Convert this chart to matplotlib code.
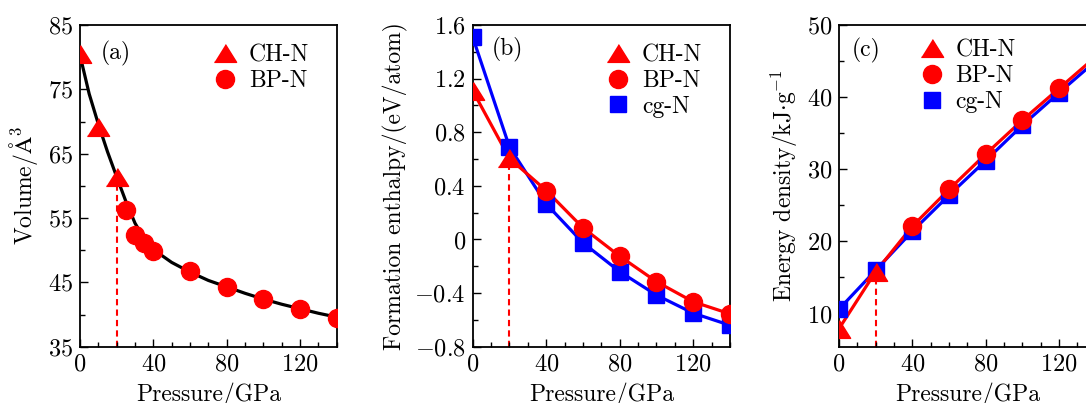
import matplotlib
matplotlib.use("Agg")
import matplotlib.pyplot as plt
from matplotlib.ticker import MultipleLocator, FixedLocator, FuncFormatter

plt.rcParams['font.family'] = 'serif'
plt.rcParams['font.serif'] = ['cmr10', 'DejaVu Serif']
plt.rcParams['mathtext.fontset'] = 'cm'
plt.rcParams['axes.formatter.use_mathtext'] = True
plt.rcParams['axes.unicode_minus'] = False

# ---------------- data ----------------
# (a) volume
a_ch_p = [0, 10, 20]
a_ch_v = [80.5, 69.2, 61.3]
a_bp_p = [25, 30, 35, 40, 60, 80, 100, 120, 140]
a_bp_v = [56.2, 52.4, 51.1, 49.8, 46.7, 44.3, 42.4, 40.8, 39.5]
a_fit_p = [0, 5, 10, 15, 20, 25, 30, 35, 40, 50, 60, 70, 80, 90, 100, 110, 120, 130, 140]
a_fit_v = [80.3, 74.3, 69.6, 65.3, 61.4, 57.6, 54.2, 51.8, 50.1, 48.1, 46.6, 45.3, 44.3, 43.3, 42.4, 41.6, 40.9, 40.2, 39.6]
a_yticks = [35, 45, 55, 65, 75, 85]

# (b) formation enthalpy
b_ch_p = [0, 20]
b_ch_h = [1.11, 0.605]
b_bp_p = [40, 60, 80, 100, 120, 140]
b_bp_h = [0.365, 0.087, -0.125, -0.315, -0.465, -0.555]
b_cg_p = [0, 20, 40, 60, 80, 100, 120, 140]
b_cg_h = [1.51, 0.69, 0.265, -0.025, -0.24, -0.415, -0.55, -0.64]

# (c) energy density
c_ch_p = [0, 20]
c_ch_e = [7.9, 15.8]
c_bp_p = [40, 60, 80, 100, 120, 140]
c_bp_e = [22.1, 27.2, 32.1, 36.8, 41.2, 45.6]
c_cg_p = [0, 20, 40, 60, 80, 100, 120, 140]
c_cg_e = [10.6, 16.0, 21.4, 26.4, 31.2, 36.1, 40.6, 45.0]

transition_p = 20

RED = '#ff0000'
BLUE = '#0000ff'
TRI = [(-1, -0.8), (1, -0.8), (0, 0.8)]

W, H = 1086, 403
fig = plt.figure(figsize=(W / 100, H / 100), dpi=100)

def px_axes(left, right, top, bottom):
    return fig.add_axes([left / W, (H - bottom) / H, (right - left) / W, (bottom - top) / H])

ax_a = px_axes(80, 336.7, 25, 346.7)
ax_b = px_axes(472.7, 730, 25, 346.7)
ax_c = px_axes(839, 1095.7, 25, 346.7)

def fmt(v, pos):
    if abs(v) < 1e-9:
        return r'$0$'
    return r'$' + ('%g' % v) + r'$'

TICK_FS = 17.5
LAB_FS = 17
LEG_FS = 17

def style(ax, ymaj=None, ymin=None, yfix=None, yminfix=None):
    ax.set_xlim(0, 140)
    ax.xaxis.set_major_locator(MultipleLocator(40))
    ax.xaxis.set_minor_locator(MultipleLocator(10))
    if yfix is not None:
        ax.yaxis.set_major_locator(FixedLocator(yfix))
        ax.yaxis.set_minor_locator(FixedLocator(yminfix))
    else:
        ax.yaxis.set_major_locator(MultipleLocator(ymaj))
        ax.yaxis.set_minor_locator(MultipleLocator(ymin))
    ax.tick_params(which='both', direction='in', top=False, right=False,
                   labelsize=TICK_FS, width=1.0, pad=5)
    ax.tick_params(which='major', length=6)
    ax.tick_params(which='minor', length=3.5)
    ax.xaxis.set_major_formatter(FuncFormatter(fmt))
    ax.yaxis.set_major_formatter(FuncFormatter(fmt))
    for s in ax.spines.values():
        s.set_linewidth(1.3)
    ax.set_xlabel('Pressure/GPa', fontsize=LAB_FS, labelpad=4.5)

ms_c, ms_t, ms_s = 13, 16, 11.5
lw = 2.3
leg_kw = dict(loc='upper left', frameon=False, fontsize=LEG_FS, handlelength=1.0,
              handletextpad=0.5, labelspacing=0.15, borderpad=0, borderaxespad=0)

# ---- (a)
ax = ax_a
ax.plot(a_fit_p, a_fit_v, '-', color='black', lw=lw, zorder=2)
ax.plot(a_ch_p, a_ch_v, linestyle='none', marker=TRI, ms=ms_t, color=RED, label='CH-N', zorder=3)
ax.plot(a_bp_p, a_bp_v, linestyle='none', marker='o', ms=ms_c, color=RED, label='BP-N', zorder=3)
ax.plot([transition_p, transition_p], [35, a_ch_v[2]], '--', color=RED, lw=1.5, dashes=(3, 2), zorder=1)
ax.set_ylim(35, 85)
style(ax, yfix=a_yticks, yminfix=[40, 50, 60, 70, 80])
ax.set_ylabel(r'Volume/$\mathrm{\AA}^3$', fontsize=LAB_FS, labelpad=6)
ax.text(0.08, 0.91, '(a)', transform=ax.transAxes, fontsize=LAB_FS, va='center', ha='left')
ax.legend(bbox_to_anchor=(0.52, 0.94), **leg_kw)

# ---- (b)
ax = ax_b
ax.plot(b_cg_p, b_cg_h, '-', color=BLUE, lw=lw, zorder=2)
ax.plot(b_ch_p + b_bp_p, b_ch_h + b_bp_h, '-', color=RED, lw=lw, zorder=2)
ax.plot(b_cg_p, b_cg_h, linestyle='none', marker='s', ms=ms_s, color=BLUE, zorder=3)
ax.plot(b_ch_p, b_ch_h, linestyle='none', marker=TRI, ms=ms_t, color=RED, label='CH-N', zorder=4)
ax.plot(b_bp_p, b_bp_h, linestyle='none', marker='o', ms=ms_c, color=RED, label='BP-N', zorder=4)
ax.plot([], [], linestyle='none', marker='s', ms=ms_s, color=BLUE, label='cg-N')
ax.plot([transition_p, transition_p], [-0.8, b_ch_h[1]], '--', color=RED, lw=1.5, dashes=(3, 2), zorder=1)
ax.set_ylim(-0.8, 1.6)
style(ax, 0.4, 0.2)
ax.set_ylabel('Formation enthalpy/(eV/atom)', fontsize=LAB_FS, labelpad=5)
ax.text(0.075, 0.925, '(b)', transform=ax.transAxes, fontsize=LAB_FS, va='center', ha='left')
ax.legend(bbox_to_anchor=(0.52, 0.94), **leg_kw)

# ---- (c)
ax = ax_c
ax.plot(c_cg_p, c_cg_e, '-', color=BLUE, lw=lw, zorder=2)
ax.plot(c_ch_p + c_bp_p, c_ch_e + c_bp_e, '-', color=RED, lw=lw, zorder=2)
ax.plot(c_cg_p, c_cg_e, linestyle='none', marker='s', ms=ms_s, color=BLUE, zorder=3)
ax.plot(c_ch_p, c_ch_e, linestyle='none', marker=TRI, ms=ms_t, color=RED, label='CH-N', zorder=4)
ax.plot(c_bp_p, c_bp_e, linestyle='none', marker='o', ms=ms_c, color=RED, label='BP-N', zorder=4)
ax.plot([], [], linestyle='none', marker='s', ms=ms_s, color=BLUE, label='cg-N')
ax.plot([transition_p, transition_p], [5.4, c_ch_e[1]], '--', color=RED, lw=1.5, dashes=(3, 2), zorder=1)
ax.set_ylim(5.4, 50)
style(ax, 10, 5)
ax.set_ylabel(r'Energy density/kJ$\cdot$g$^{-1}$', fontsize=LAB_FS, labelpad=5)
ax.text(0.05, 0.92, '(c)', transform=ax.transAxes, fontsize=LAB_FS, va='center', ha='left')
ax.legend(bbox_to_anchor=(0.316, 0.955), **leg_kw)

fig.savefig('out.png', dpi=100)
